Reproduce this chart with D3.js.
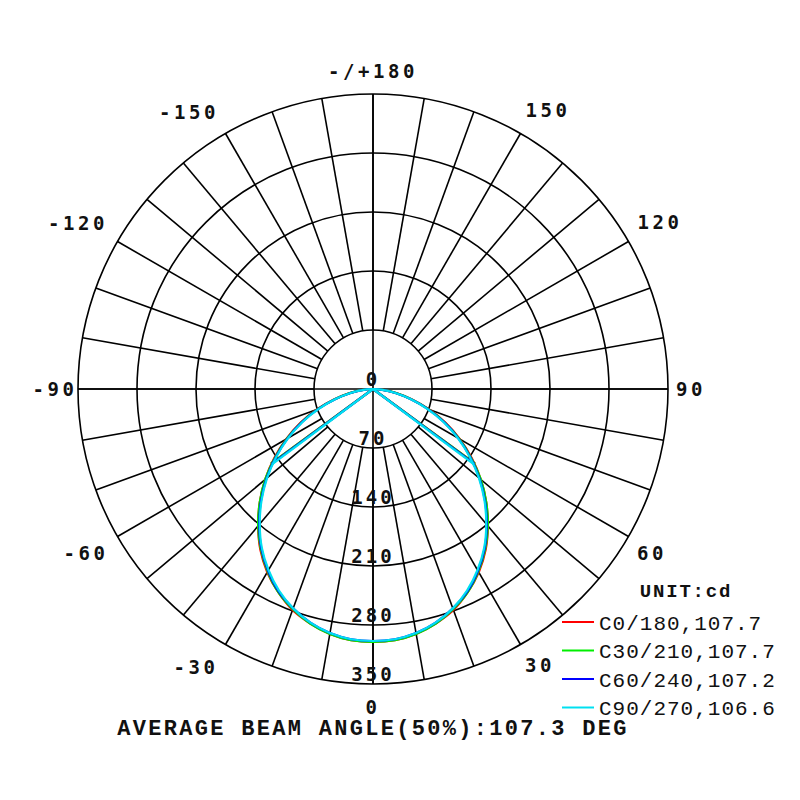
<!DOCTYPE html>
<html>
<head>
<meta charset="utf-8">
<script src="https://cdn.jsdelivr.net/npm/d3@7"></script>
<style>
  html, body { margin: 0; padding: 0; background: #fff; }
  svg { display: block; }
</style>
</head>
<body>
<svg id="chart"></svg>
<script>
// gamma angles (deg from nadir) and intensity values in cd
const gammas = [0, 5, 10, 15, 20, 25, 30, 35, 40, 45, 50, 55, 60, 65, 70, 75, 80, 85, 90];
const c0 = [300, 299, 295, 288, 279, 266, 251, 233, 212, 190, 167, 143, 119, 95, 71, 48, 29, 12, 0];
const c30 = [300, 299, 295, 288, 278, 266, 250, 232, 212, 190, 167, 142, 118, 94, 70, 47, 28, 12, 0];
const c60 = [299, 298, 294, 287, 277, 265, 249, 231, 210, 188, 165, 141, 117, 93, 69, 46, 27, 11, 0];
const c90 = [299, 298, 294, 287, 277, 264, 248, 230, 209, 187, 164, 140, 116, 92, 68, 46, 27, 11, 0];

const planeNames = ['C0/180', 'C30/210', 'C60/240', 'C90/270'];
const beamAngles = [107.7, 107.7, 107.2, 106.6];
const planeColors = ['#ff0000', '#00ee00', '#0000ff', '#00e0f0'];

const ringValues = [0, 70, 140, 210, 280, 350];
const angleTicks = [180, 150, 120, 90, 60, 30, 0, -30, -60, -90, -120, -150];
const avgBeam = 107.3;

const width = 800, height = 800;
const cx = 373, cy = 389;
const R = 295;
const deg = Math.PI / 180;

// small hand nudges for the angle labels (layout only)
const labelNudge = {
  '150': [11, 5], '120': [3, -3], '60': [-5, 0], '30': [3, -8],
  '-30': [-13, -6], '-60': [-3, 0], '-120': [-11, -2], '-150': [-20, 7]
};

const svg = d3.select('#chart').attr('width', width).attr('height', height);
const g = svg.append('g').attr('transform', `translate(${cx},${cy})`);

const r = d3.scaleLinear().domain([0, 350]).range([0, R]);
// angle for d3 radial helpers: 0 is nadir (down), positive goes right
const ang = v => Math.PI - v * deg;

// rings
g.selectAll('circle.ring')
  .data(ringValues.filter(d => d > 0))
  .enter().append('circle')
  .attr('class', 'ring')
  .attr('r', d => r(d))
  .attr('fill', 'none')
  .attr('stroke', '#000')
  .attr('stroke-width', 1.6);

// spokes every 10 deg, from first ring to outer ring
const spokes = d3.range(0, 360, 10);
g.selectAll('line.spoke')
  .data(spokes)
  .enter().append('line')
  .attr('class', 'spoke')
  .attr('x1', d => d3.pointRadial(ang(d), r(70))[0])
  .attr('y1', d => d3.pointRadial(ang(d), r(70))[1])
  .attr('x2', d => d3.pointRadial(ang(d), r(350))[0])
  .attr('y2', d => d3.pointRadial(ang(d), r(350))[1])
  .attr('stroke', '#000')
  .attr('stroke-width', 1.6);

// main axes through centre
g.selectAll('line.axis')
  .data([0, 90])
  .enter().append('line')
  .attr('x1', d => d3.pointRadial(ang(d), r(350))[0])
  .attr('y1', d => d3.pointRadial(ang(d), r(350))[1])
  .attr('x2', d => d3.pointRadial(ang(d + 180), r(350))[0])
  .attr('y2', d => d3.pointRadial(ang(d + 180), r(350))[1])
  .attr('stroke', '#000')
  .attr('stroke-width', 1.6);

// ring labels
g.selectAll('text.ringlbl')
  .data(ringValues)
  .enter().append('text')
  .attr('class', 'ringlbl')
  .attr('x', 0)
  .attr('y', d => r(d) - 10)
  .attr('dy', '0.36em')
  .attr('text-anchor', 'middle')
  .style('font-family', '"DejaVu Sans Mono", monospace')
  .style('font-weight', 'bold')
  .style('font-size', '19px')
  .style('letter-spacing', '3px')
  .attr('fill', '#111')
  .text(d => d);

// angle labels
const labelPos = d => {
  const p = d3.pointRadial(ang(d), d % 90 === 0 ? 318 : 328);
  const n = labelNudge[String(d)] || [0, 0];
  return [p[0] + n[0], p[1] + n[1]];
};
g.selectAll('text.anglbl')
  .data(angleTicks)
  .enter().append('text')
  .attr('class', 'anglbl')
  .attr('x', d => labelPos(d)[0])
  .attr('y', d => labelPos(d)[1])
  .attr('dy', '0.36em')
  .attr('text-anchor', 'middle')
  .style('font-family', '"DejaVu Sans Mono", monospace')
  .style('font-weight', 'bold')
  .style('font-size', '19px')
  .style('letter-spacing', '3.6px')
  .attr('fill', '#111')
  .text(d => d === 180 ? '-/+180' : d);

// intensity curves: left half (C180..) mirrored, right half (C0..)
const series = [c0, c30, c60, c90];
const line = d3.lineRadial()
  .angle(d => ang(d.g))
  .radius(d => r(d.v))
  .curve(d3.curveCatmullRom);

series.forEach((vals, i) => {
  const right = gammas.map((gm, j) => ({ g: gm, v: vals[j] }));
  const left = gammas.map((gm, j) => ({ g: -gm, v: vals[j] })).reverse();
  g.append('path')
    .datum(left.concat(right.slice(1)))
    .attr('d', line)
    .attr('fill', 'none')
    .attr('stroke', planeColors[i])
    .attr('stroke-width', 2.2);

  // beam angle (50%) lines from centre
  const half = beamAngles[i] / 2;
  const halfMax = vals[0] / 2;
  g.selectAll(null)
    .data([-half, half])
    .enter().append('line')
    .attr('x1', 0).attr('y1', 0)
    .attr('x2', d => d3.pointRadial(ang(d), r(halfMax))[0])
    .attr('y2', d => d3.pointRadial(ang(d), r(halfMax))[1])
    .attr('stroke', planeColors[i])
    .attr('stroke-width', 2.2);
});

// legend
const lg = svg.append('g').attr('transform', 'translate(562,590)');
lg.append('text')
  .attr('x', 124).attr('y', 0).attr('dy', '0.36em')
  .attr('text-anchor', 'middle')
  .style('font-family', '"Liberation Mono", monospace')
  .style('font-weight', 'bold')
  .style('font-size', '19px')
  .style('letter-spacing', '1.8px')
  .attr('fill', '#111')
  .text('UNIT:cd');

const rows = lg.selectAll('g.row')
  .data(planeNames)
  .enter().append('g')
  .attr('class', 'row')
  .attr('transform', (d, i) => `translate(0,${32 + i * 28.5})`);
rows.append('line')
  .attr('x1', 0).attr('x2', 32)
  .attr('stroke', (d, i) => planeColors[i])
  .attr('stroke-width', 2);
rows.append('text')
  .attr('x', 37).attr('dy', '0.36em')
  .style('font-family', '"Liberation Mono", monospace')
  .style('font-size', '21px')
  .style('letter-spacing', '1px')
  .attr('fill', '#111')
  .text((d, i) => `${d},${beamAngles[i]}`);

// bottom title
svg.append('text')
  .attr('x', cx).attr('y', 727).attr('dy', '0.36em')
  .attr('text-anchor', 'middle')
  .style('font-family', '"Liberation Mono", monospace')
  .style('font-weight', 'bold')
  .style('font-size', '22px')
  .style('letter-spacing', '2.3px')
  .attr('fill', '#111')
  .text(`AVERAGE BEAM ANGLE(50%):${avgBeam} DEG`);
</script>
</body>
</html>
